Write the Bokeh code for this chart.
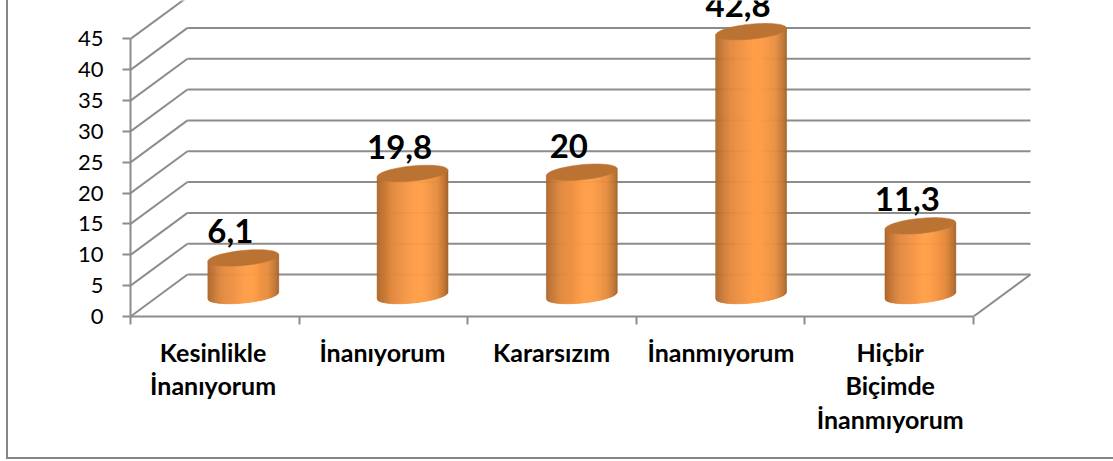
from bokeh.plotting import figure
from bokeh.models import ColumnDataSource, LinearAxis, FixedTicker, Range1d
from bokeh.core.properties import value
from bokeh.embed import file_html
from bokeh.resources import INLINE
import numpy as np

categories = ["Kesinlikle\nİnanıyorum", "İnanıyorum", "Kararsızım", "İnanmıyorum", "Hiçbir\nBiçimde\nİnanmıyorum"]
values = [6.1, 19.8, 20, 42.8, 11.3]
value_labels = ["6,1", "19,8", "20", "42,8", "11,3"]
y_ticks = [0, 5, 10, 15, 20, 25, 30, 35, 40, 45]

FONT = "Lato"
GRAY = "#8c8c8c"
BORDER = "#868686"
DEPTH_X = 0.338      # wall depth in category units
DEPTH_Y = 6.8        # wall depth in value units
STEP = 1.004         # spacing of the cylinders and names along the axis
RX = 0.21            # cylinder half width in category units
RY = 1.22            # ellipse half height in value units
SHEAR = 0.54         # rise of the ellipse from centre to right edge, value units
LABEL_RISE = 4.3     # value-label lift above the cylinder top, value units

W, H = 1113, 461
p = figure(width=W, height=H, output_backend="svg", toolbar_location=None,
           x_range=Range1d(0, 983 / 168.6), y_range=Range1d(0, 316 / 6.167),
           min_border_left=130, min_border_right=0, min_border_top=0, min_border_bottom=145,
           outline_line_color=None, x_axis_type=None, y_axis_type=None,
           border_fill_color=None, background_fill_color=None)
p.styles = {"position": "absolute", "left": "0px", "top": "0px",
            "background": (f"linear-gradient({BORDER},{BORDER}) 6px 0px / 2px 459px no-repeat, "
                           f"linear-gradient({BORDER},{BORDER}) 6px 457px / 1107px 2px no-repeat")}
p.xgrid.visible = False
p.ygrid.visible = False

# walls
n = len(categories)
x0, y0, x1, y1 = [], [], [], []
for t in y_ticks:
    x0 += [0, DEPTH_X]; y0 += [t, t + DEPTH_Y]
    x1 += [DEPTH_X, n + DEPTH_X]; y1 += [t + DEPTH_Y, t + DEPTH_Y]
x0.append(n); y0.append(0); x1.append(n + DEPTH_X); y1.append(DEPTH_Y)
p.segment(x0, y0, x1, y1, line_color=GRAY, line_width=2)

# axes
yax = LinearAxis(ticker=FixedTicker(ticks=y_ticks), bounds=(0, 45),
                 axis_line_color=GRAY, axis_line_width=2,
                 major_tick_line_color=GRAY, major_tick_line_width=2,
                 major_tick_in=0, major_tick_out=8, minor_tick_line_color=None,
                 major_label_standoff=19, major_label_text_font=FONT,
                 major_label_text_font_size="22px", major_label_text_color="#000000")
p.add_layout(yax, "left")

xax = LinearAxis(ticker=FixedTicker(ticks=list(range(n + 1))), bounds=(0, n),
                 axis_line_color=GRAY, axis_line_width=2,
                 major_tick_line_color=GRAY, major_tick_line_width=2,
                 major_tick_in=0, major_tick_out=8, minor_tick_line_color=None,
                 major_label_text_font_size="0px", major_label_standoff=0,
                 major_label_text_color=None)
p.add_layout(xax, "below")

label_ticks = [(i + 0.5) * STEP - 0.012 for i in range(n)]
lab = LinearAxis(ticker=FixedTicker(ticks=label_ticks),
                 major_label_overrides=dict(zip(label_ticks, categories)),
                 axis_line_color=None, major_tick_line_color=None, minor_tick_line_color=None,
                 major_label_standoff=6, major_label_text_font=FONT,
                 major_label_text_font_style="bold", major_label_text_font_size="25px",
                 major_label_text_line_height=1.13, major_label_text_color="#000000")
p.add_layout(lab, "below")

# cylinders built from thin strips with a horizontal shade
stops_u = [-1.0, -0.93, -0.6, 0.05, 0.3, 0.7, 0.95, 1.0]
stops_c = [(172, 102, 44), (184, 110, 48), (224, 136, 62), (255, 157, 71),
           (255, 157, 71), (232, 142, 64), (186, 112, 48), (160, 96, 42)]
STRIPS = 72
edges = np.linspace(-1, 1, STRIPS + 1)
centres = [(i + 0.5) * STEP + DEPTH_X / 2 - 0.002 for i in range(n)]
xs, ys, cols = [], [], []
for cx, v in zip(centres, values):
    base = DEPTH_Y / 2
    for a, b in zip(edges[:-1], edges[1:]):
        um = (a + b) / 2
        c = [int(np.interp(um, stops_u, [s[k] for s in stops_c])) for k in range(3)]
        low = lambda u: base + SHEAR * u - RY * np.sqrt(max(0, 1 - u * u))
        up = lambda u: base + v + SHEAR * u
        xs.append([cx + a * RX, cx + b * RX, cx + b * RX, cx + a * RX])
        ys.append([low(a), low(b), up(b), up(a)])
        cols.append("#%02x%02x%02x" % tuple(c))
p.patches(xs, ys, fill_color=cols, line_color=cols, line_width=0.6)

tx, ty = [], []
for cx, v in zip(centres, values):
    u = np.linspace(0, 2 * np.pi, 80)
    tx.append(list(cx + RX * np.cos(u)))
    ty.append(list(DEPTH_Y / 2 + v + SHEAR * np.cos(u) + RY * np.sin(u)))
p.patches(tx, ty, fill_color="#bb7333", line_color="#bb7333", line_width=0.5)

src = ColumnDataSource(dict(x=centres, y=[DEPTH_Y / 2 + v + LABEL_RISE for v in values], t=value_labels))
p.text("x", "y", text="t", source=src, x_offset=-13,
       text_font=value(FONT), text_font_style="bold", text_font_size="33px",
       text_align="center", text_baseline="alphabetic", text_color="#000000")

open("out.html", "w").write(file_html(p, INLINE))
